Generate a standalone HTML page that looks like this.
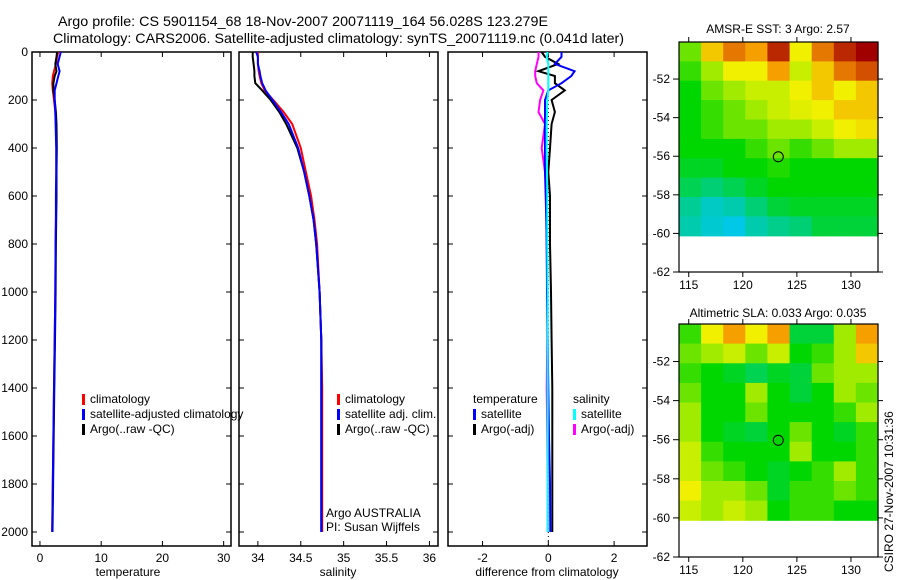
<!DOCTYPE html>
<html><head><meta charset="utf-8">
<style>
body{margin:0;background:#fff;}
svg{display:block;font-family:"Liberation Sans",sans-serif;font-size:12px;}
</style></head>
<body>
<svg id="c" width="900" height="580">
<text x="58" y="26" font-size="14" textLength="490" lengthAdjust="spacingAndGlyphs">Argo profile: CS 5901154_68 18-Nov-2007 20071119_164 56.028S 123.279E</text>
<text x="53" y="43" font-size="14" textLength="571" lengthAdjust="spacingAndGlyphs">Climatology: CARS2006. Satellite-adjusted climatology: synTS_20071119.nc (0.041d later)</text>
<text x="128" y="576" text-anchor="middle">temperature</text>
<text x="338" y="576" text-anchor="middle">salinity</text>
<text x="547" y="576" text-anchor="middle">difference from climatology</text>
<text x="778" y="33" text-anchor="middle">AMSR-E SST: 3 Argo: 2.57</text>
<text x="778" y="317" text-anchor="middle">Altimetric SLA: 0.033 Argo: 0.035</text>
<text transform="translate(893,572) rotate(-90)">CSIRO 27-Nov-2007 10:31:36</text>
</svg>
<script>
// ---- data ----
const depths=[0,20,50,80,100,130,160,200,250,300,400,500,600,700,800,1000,1200,1400,1600,1800,2000];
const tempClim=[3.0,2.8,2.6,2.3,2.1,2.0,2.1,2.3,2.5,2.6,2.7,2.7,2.65,2.6,2.55,2.5,2.4,2.3,2.2,2.1,2.0];
const tempSat=[3.4,3.2,2.9,3.2,3.0,2.7,2.4,2.4,2.5,2.55,2.65,2.65,2.6,2.6,2.55,2.5,2.4,2.3,2.2,2.1,2.0];
const tempArgo=[2.8,2.7,2.5,2.7,2.4,2.2,2.2,2.4,2.6,2.7,2.75,2.7,2.7,2.65,2.6,2.55,2.45,2.35,2.25,2.15,2.05];
const salClim=[34.0,34.0,34.0,34.01,34.02,34.04,34.08,34.18,34.3,34.4,34.5,34.56,34.62,34.66,34.69,34.72,34.74,34.75,34.75,34.75,34.75];
const salSat=[33.98,34.0,34.0,34.02,34.03,34.05,34.09,34.17,34.27,34.36,34.47,34.54,34.6,34.65,34.68,34.72,34.74,34.74,34.74,34.74,34.74];
const salArgo=[33.94,33.94,33.95,33.96,33.96,33.97,34.05,34.15,34.25,34.33,34.46,34.54,34.6,34.65,34.68,34.72,34.74,34.74,34.74,34.74,34.74];
const dTempSat=[0.4,0.4,0.2,0.8,0.7,0.4,0.0,-0.1,-0.1,-0.1,-0.1,-0.1,-0.08,-0.06,-0.05,-0.04,-0.02,0,0.02,0.05,0.06];
const dTempArgo=[-0.2,-0.1,0.3,-0.3,0.2,0.2,0.5,0.1,0.2,0.1,0.05,0.0,0.05,0.05,0.05,0.08,0.1,0.12,0.12,0.12,0.12];
const dSalSat=[-0.02,-0.05,0.0,0.0,0.0,0.0,0.0,-0.03,-0.04,-0.05,-0.05,-0.04,-0.03,-0.03,-0.03,-0.02,-0.02,-0.02,-0.02,-0.02,-0.02];
const dSalArgo=[-0.3,-0.3,-0.35,-0.4,-0.4,-0.35,-0.15,-0.25,-0.3,-0.1,-0.2,-0.1,-0.05,-0.05,-0.05,-0.03,-0.03,-0.05,-0.03,-0.02,-0.02];
const tempTicks=[0,10,20,30];
const salTicks=[34,34.5,35,35.5,36];
const salLabels=["34","34.5","35","35.5","36"];
const diffTicks=[-2,0,2];
const depthTicks=[0,200,400,600,800,1000,1200,1400,1600,1800,2000];
const latTicks=[-52,-54,-56,-58,-60,-62];
const lonTicks=[115,120,125,130];
const sstGrid=[
[.55,.75,.85,.8,.95,.7,.85,.95,1],
[.5,.6,.7,.7,.8,.65,.75,.85,.9],
[.45,.55,.6,.65,.65,.7,.75,.7,.75],
[.45,.5,.55,.6,.65,.68,.7,.75,.75],
[.45,.5,.55,.55,.6,.6,.65,.7,.72],
[.45,.45,.45,.5,.55,.5,.55,.6,.6],
[.42,.42,.45,.45,.48,.45,.45,.45,.45],
[.38,.35,.38,.42,.45,.45,.45,.45,.45],
[.32,.28,.3,.35,.4,.42,.42,.42,.42],
[.3,.27,.25,.3,.33,.35,.4,.4,.4]];
const slaGrid=[
[.5,.7,.8,.7,.8,.4,.4,.6,.8],
[.55,.6,.65,.55,.65,.45,.5,.6,.75],
[.5,.45,.42,.38,.42,.4,.55,.6,.6],
[.55,.45,.45,.6,.45,.4,.45,.6,.55],
[.6,.45,.45,.55,.45,.45,.45,.5,.6],
[.6,.45,.42,.4,.45,.55,.45,.42,.5],
[.65,.5,.45,.45,.45,.6,.45,.45,.5],
[.65,.55,.5,.45,.42,.45,.5,.6,.5],
[.7,.6,.6,.55,.42,.5,.5,.55,.5],
[.65,.6,.65,.6,.45,.5,.5,.45,.45]];
const argoLon=123.279, argoLat=-56.028;

const svg=document.getElementById('c');
const NS='http://www.w3.org/2000/svg';
function el(t,a,p){const e=document.createElementNS(NS,t);for(const k in a)e.setAttribute(k,a[k]);(p||svg).appendChild(e);return e;}
function txt(x,y,s,anchor,name){const e=el('text',{x:x,y:y,'text-anchor':anchor||'start'});e.textContent=s;

return e;}

const yD=d=>52+d*0.24;
function panel(x0,x1,xmin,xmax,ticks,labels,name,depthLabels){
  const xs=v=>x0+(v-xmin)/(xmax-xmin)*(x1-x0);
  const r=el('rect',{x:x0,y:52,width:x1-x0,height:494,fill:'none',stroke:'#000','stroke-width':1.5});
  
  
  ticks.forEach((t,i)=>{const X=xs(t);el('line',{x1:X,x2:X,y1:546,y2:541,stroke:'#000'});el('line',{x1:X,x2:X,y1:52,y2:57,stroke:'#000'});
    txt(X,562,labels[i],'middle',name+'-x-tick-label');});
  depthTicks.forEach(d=>{const Y=yD(d);el('line',{x1:x0,x2:x0+5,y1:Y,y2:Y,stroke:'#000'});el('line',{x1:x1,x2:x1-5,y1:Y,y2:Y,stroke:'#000'});
    if(depthLabels)txt(x0-4,Y+4,String(d),'end','depth-tick-label');});
  return xs;
}
function line(xs,vals,color,name,w){
  const pts=vals.map((v,i)=>xs(v).toFixed(1)+','+yD(depths[i]).toFixed(1)).join(' ');
  const p=el('polyline',{points:pts,fill:'none',stroke:color,'stroke-width':w||2});
  
  
}
function legend(x,y,items,pname){
  items.forEach((it,i)=>{const Y=y+i*15;
    if(it[0])el('rect',{x:x,y:Y-9,width:3,height:11,fill:it[0]});
    txt(x+(it[0]?8:0),Y,it[1],'start',pname+'-legend-entry');});
}
const xT=panel(32,231,-1.3,31.2,tempTicks,tempTicks.map(String),'temperature-panel',true);
line(xT,tempClim,'#f00','temp-climatology-line');
line(xT,tempArgo,'#000','temp-argo-line');
line(xT,tempSat,'#00f','temp-satellite-line');
legend(82,403,[['#f00','climatology'],['#00f','satellite-adjusted climatology'],['#000','Argo(..raw -QC)']],'temp');
const xS=panel(239,438,33.78,36.1,salTicks,salLabels,'salinity-panel',false);
line(xS,salClim,'#f00','sal-climatology-line');
line(xS,salArgo,'#000','sal-argo-line');
line(xS,salSat,'#00f','sal-satellite-line');
legend(337,403,[['#f00','climatology'],['#00f','satellite adj. clim.'],['#000','Argo(..raw -QC)']],'sal');
txt(326,517,'Argo AUSTRALIA','start','argo-australia-label');
txt(326,531,'PI: Susan Wijffels','start','pi-label');
const xF=panel(448,647,-3.05,3.0,diffTicks,diffTicks.map(String),'difference-panel',false);
el('line',{x1:xF(0),x2:xF(0),y1:52,y2:546,stroke:'#000','stroke-dasharray':'1,3'});
line(xF,dSalArgo,'#f0f','diff-sal-argo-line');
line(xF,dTempArgo,'#000','diff-temp-argo-line');
line(xF,dTempSat,'#00f','diff-temp-satellite-line');
line(xF,dSalSat,'#0ff','diff-sal-satellite-line');
legend(473,403,[[null,'temperature'],['#00f','satellite'],['#000','Argo(-adj)']],'diff-temp');
legend(573,403,[[null,'salinity'],['#0ff','satellite'],['#f0f','Argo(-adj)']],'diff-sal');

function cmap(v){
  const st=[[0,[0,0,200]],[.25,[0,200,230]],[.45,[0,215,0]],[.6,[160,235,0]],[.7,[240,240,0]],[.8,[245,160,0]],[.9,[210,80,0]],[1,[160,0,0]]];
  for(let i=1;i<st.length;i++)if(v<=st[i][0]){const a=st[i-1],b=st[i],f=(v-a[0])/(b[0]-a[0]);
    return 'rgb('+a[1].map((c,k)=>Math.round(c+(b[1][k]-c)*f)).join(',')+')';}
  return 'rgb(160,0,0)';
}
function map(top,grid,name){
  const lonMin=114.1,lonMax=132.5,latTop=-50.08,latBot=-62.0;
  const xl=v=>679+(v-lonMin)/(lonMax-lonMin)*199;
  const yl=v=>top+(latTop-v)/(latTop-latBot)*(top===42?230:233);
  const dataBot=-60.12;
  const rows=grid.length,cols=grid[0].length;
  const cw=(xl(lonMax)-xl(lonMin))/cols, ch=(yl(dataBot)-yl(latTop))/rows;
  grid.forEach((row,r)=>row.forEach((v,c)=>{
    const e=el('rect',{x:(xl(lonMin)+c*cw).toFixed(1),y:(yl(latTop)+r*ch).toFixed(1),width:(cw+0.6).toFixed(1),height:(ch+0.6).toFixed(1),fill:cmap(v)});
    
    
  }));
  const f=el('rect',{x:679,y:top,width:199,height:yl(latBot)-top,fill:'none',stroke:'#000','stroke-width':1.2});
  
  
  latTicks.forEach(l=>{const Y=yl(l);el('line',{x1:679,x2:673,y1:Y,y2:Y,stroke:'#000'});el('line',{x1:878,x2:883,y1:Y,y2:Y,stroke:'#000'});
    txt(670,Y+4,String(l),'end',name+'-lat-label');});
  lonTicks.forEach(l=>{const X=xl(l);el('line',{x1:X,x2:X,y1:top,y2:top-5,stroke:'#000'});el('line',{x1:X,x2:X,y1:yl(latBot),y2:yl(latBot)+5,stroke:'#000'});
    txt(X,yl(latBot)+17,String(l),'middle',name+'-lon-label');});
  const c=el('circle',{cx:xl(argoLon),cy:yl(argoLat),r:5,fill:'none',stroke:'#000','stroke-width':1});
  
  
}
map(42,sstGrid,'sst-map');
map(324,slaGrid,'sla-map');
</script>
</body></html>
